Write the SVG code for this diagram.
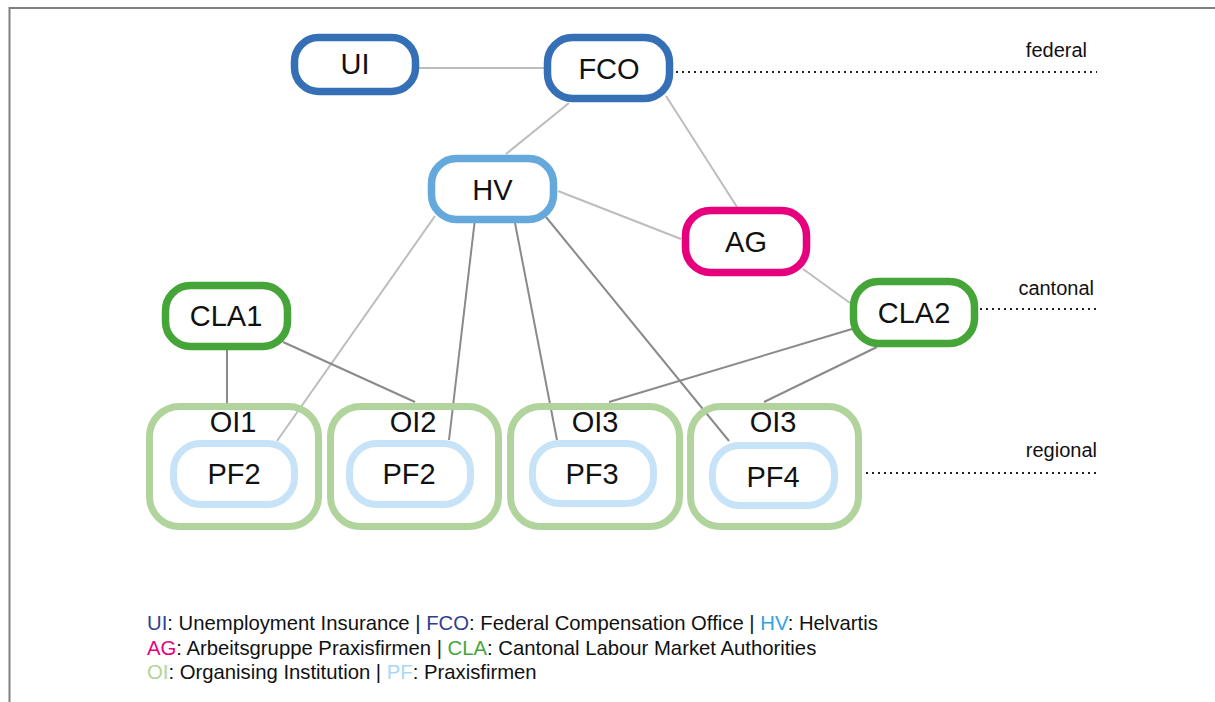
<svg xmlns="http://www.w3.org/2000/svg" width="1215" height="702" viewBox="0 0 1215 702">
<style>
text{font-family:"Liberation Sans",Arial,sans-serif;fill:#111}
.lbl{font-size:29px;text-anchor:middle}
.lvl{font-size:20px;text-anchor:end}
.leg{font-size:20.3px}
.n{fill:#fff;stroke-width:7.5}
.blue{stroke:#3570b7}
.hv{stroke:#64a8dc}
.ag{stroke:#e6007e}
.cla{stroke:#45a538}
.oi{fill:none;stroke:#b1d39c;stroke-width:7}
.pf{fill:#fff;stroke:#c7e3f7;stroke-width:7}
.lt{stroke:#bdbdbd;stroke-width:2;fill:none}
.dk{stroke:#8a8a8a;stroke-width:2;fill:none}
.dot{stroke:#222;stroke-width:2;stroke-dasharray:2 4;fill:none}
</style>
<rect width="1215" height="702" fill="#fff"/>
<g id="frame">
<path d="M9.5,702 V8 H1215" fill="none" stroke="#808080" stroke-width="2"/>
</g>
<g id="connectors">
<line class="lt" x1="419" y1="68" x2="544" y2="68"/>
<line class="lt" x1="569" y1="103" x2="506" y2="154"/>
<line class="lt" x1="666" y1="96" x2="737" y2="207"/>
<line class="lt" x1="558" y1="191" x2="681" y2="239"/>
<line class="lt" x1="803" y1="269" x2="850" y2="303"/>
<line class="lt" x1="435" y1="216" x2="277" y2="441"/>
<line class="dk" x1="474.5" y1="223" x2="449" y2="440"/>
<line class="dk" x1="515" y1="223" x2="557" y2="440"/>
<line class="dk" x1="546" y1="217" x2="729" y2="441"/>
<line class="dk" x1="227" y1="348" x2="227" y2="403"/>
<line class="dk" x1="283" y1="342" x2="415" y2="402"/>
<line class="dk" x1="852" y1="329" x2="609" y2="402"/>
<line class="dk" x1="877" y1="347" x2="764" y2="402"/>
</g>
<g id="levels">
<line class="dot" x1="676" y1="72" x2="1097" y2="72"/>
<text class="lvl" x="1087" y="57">federal</text>
<line class="dot" x1="980" y1="309" x2="1097" y2="309"/>
<text class="lvl" x="1094" y="295">cantonal</text>
<line class="dot" x1="866" y1="473" x2="1097" y2="473"/>
<text class="lvl" x="1097" y="457">regional</text>
</g>
<g id="UI"><rect class="n blue" x="294.5" y="37.5" width="121" height="54" rx="24"/><text class="lbl" x="355" y="74">UI</text></g>
<g id="FCO"><rect class="n blue" x="547.5" y="37.5" width="122" height="61" rx="25"/><text class="lbl" x="609" y="79">FCO</text></g>
<g id="HV"><rect class="n hv" x="431.5" y="158.5" width="122" height="61" rx="25"/><text class="lbl" x="492.5" y="200">HV</text></g>
<g id="AG"><rect class="n ag" x="685.5" y="210.5" width="121" height="62" rx="25"/><text class="lbl" x="746" y="252">AG</text></g>
<g id="CLA1"><rect class="n cla" x="165.5" y="285.5" width="122" height="61" rx="25"/><text class="lbl" x="226" y="326">CLA1</text></g>
<g id="CLA2"><rect class="n cla" x="853.5" y="281.5" width="121" height="62" rx="25"/><text class="lbl" x="914" y="323">CLA2</text></g>
<g id="OI1"><rect class="oi" x="149.5" y="406.5" width="169" height="120" rx="30"/><text class="lbl" x="233" y="432">OI1</text>
<g id="PF2a"><rect class="pf" x="173.5" y="443.5" width="121" height="61" rx="27"/><text class="lbl" x="234" y="484">PF2</text></g></g>
<g id="OI2"><rect class="oi" x="330.5" y="406.5" width="168" height="120" rx="30"/><text class="lbl" x="413" y="432">OI2</text>
<g id="PF2b"><rect class="pf" x="349.5" y="443.5" width="121" height="61" rx="27"/><text class="lbl" x="409" y="484">PF2</text></g></g>
<g id="OI3a"><rect class="oi" x="510.5" y="406.5" width="169" height="120" rx="30"/><text class="lbl" x="595" y="432">OI3</text>
<g id="PF3"><rect class="pf" x="532.5" y="443.5" width="121" height="60" rx="27"/><text class="lbl" x="592" y="484">PF3</text></g></g>
<g id="OI3b"><rect class="oi" x="690.5" y="406.5" width="168" height="120" rx="30"/><text class="lbl" x="773" y="432">OI3</text>
<g id="PF4"><rect class="pf" x="712.5" y="445.5" width="122" height="60" rx="27"/><text class="lbl" x="773" y="487">PF4</text></g></g>
<g id="legend">
<text class="leg" x="147" y="630"><tspan fill="#303f92">UI</tspan>: Unemployment Insurance | <tspan fill="#303f92">FCO</tspan>: Federal Compensation Office | <tspan fill="#2fa4de">HV</tspan>: Helvartis</text>
<text class="leg" x="147" y="654.5"><tspan fill="#e6007e">AG</tspan>: Arbeitsgruppe Praxisfirmen | <tspan fill="#45a538">CLA</tspan>: Cantonal Labour Market Authorities</text>
<text class="leg" x="147" y="679"><tspan fill="#b1d39c">OI</tspan>: Organising Institution | <tspan fill="#a8d8f5">PF</tspan>: Praxisfirmen</text>
</g>
</svg>
